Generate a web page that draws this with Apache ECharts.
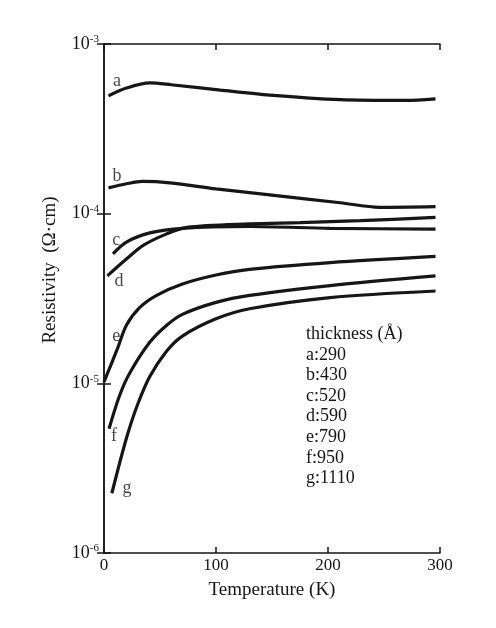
<!DOCTYPE html>
<html>
<head>
<meta charset="utf-8">
<script src="https://cdn.jsdelivr.net/npm/echarts@6/dist/echarts.min.js"></script>
<style>
html, body { margin: 0; padding: 0; background: #fff; }
#container { width: 496px; height: 628px; }
</style>
</head>
<body>
<div id="container"></div>
<script>
// readings from the figure: temperature (K) and resistivity (Ω·cm) per film
var tempA = [4, 20, 41, 60, 104, 148, 211, 269, 296];
var resA = [4.95e-4, 5.5e-4, 5.9e-4, 5.75e-4, 5.35e-4, 5.0e-4, 4.7e-4, 4.65e-4, 4.75e-4];
var tempB = [4, 20, 34, 59, 100, 148, 211, 246, 296];
var resB = [1.42e-4, 1.5e-4, 1.55e-4, 1.52e-4, 1.4e-4, 1.29e-4, 1.16e-4, 1.09e-4, 1.1e-4];
var tempC = [8, 20, 41, 70, 130, 202, 296];
var resC = [5.8e-5, 6.8e-5, 7.7e-5, 8.2e-5, 8.4e-5, 8.2e-5, 8.1e-5];
var tempD = [3, 20, 35, 56, 74, 130, 175, 229, 296];
var resD = [4.3e-5, 5.4e-5, 6.5e-5, 7.6e-5, 8.3e-5, 8.7e-5, 8.85e-5, 9.1e-5, 9.5e-5];
var tempE = [0, 12, 20, 32, 47, 70, 100, 130, 202, 296];
var resE = [1.02e-5, 1.6e-5, 2.2e-5, 2.8e-5, 3.3e-5, 3.85e-5, 4.35e-5, 4.7e-5, 5.15e-5, 5.6e-5];
var tempF = [4.5, 14, 23, 41, 56, 70, 100, 130, 202, 296];
var resF = [5.4e-6, 8.5e-6, 1.15e-5, 1.75e-5, 2.2e-5, 2.55e-5, 3.0e-5, 3.3e-5, 3.77e-5, 4.3e-5];
var tempG = [7, 14, 21, 30, 41, 56, 70, 100, 130, 202, 296];
var resG = [2.25e-6, 3.4e-6, 5.0e-6, 7.5e-6, 1.1e-5, 1.55e-5, 1.9e-5, 2.4e-5, 2.75e-5, 3.2e-5, 3.5e-5];

// curve letters and where they sit
var curveNames = ['a', 'b', 'c', 'd', 'e', 'f', 'g'];
var nameTemps = [11.6, 11.6, 11, 13.4, 11, 9, 20.5];
var nameValues = [6.05e-4, 1.67e-4, 7.0e-5, 4.0e-5, 1.9e-5, 4.9e-6, 2.4e-6];

// thickness table
var thicknessTitle = 'thickness (Å)';
var thicknessValues = ['290', '430', '520', '590', '790', '950', '1110'];

var xTicks = [0, 100, 200, 300];

var myChart = echarts.init(document.getElementById('container'));

function pairs(xs, ys) {
	var out = [];
	for (var i = 0; i < xs.length; i++) {
		out.push([xs[i], ys[i]]);
	}
	return out;
}

var serif = 'Liberation Serif';
var ink = '#161616';

var curves = [
	[tempA, resA], [tempB, resB], [tempC, resC], [tempD, resD],
	[tempE, resE], [tempF, resF], [tempG, resG]
];

var series = curves.map(function(c, i) {
	return {
		name: curveNames[i],
		type: 'line',
		xAxisIndex: 0,
		yAxisIndex: 0,
		data: pairs(c[0], c[1]),
		smooth: 0.3,
		symbol: 'none',
		lineStyle: { color: ink, width: 3.2 }
	};
});

var labelData = curveNames.map(function(n, i) {
	return { value: [nameTemps[i], nameValues[i]], name: n };
});

series.push({
	type: 'scatter',
	xAxisIndex: 0,
	yAxisIndex: 0,
	symbolSize: 0,
	data: labelData,
	label: {
		show: true,
		position: 'inside',
		formatter: '{b}',
		fontFamily: serif,
		fontSize: 18,
		color: ink
	},
	silent: true
});

var tableLines = [thicknessTitle];
thicknessValues.forEach(function(v, i) {
	tableLines.push(curveNames[i] + ':' + v);
});

var option = {
	animation: false,
	backgroundColor: '#fff',
	grid: { left: 104, right: 56, top: 44, bottom: 75 },
	xAxis: [{
		type: 'value',
		min: 0,
		max: 300,
		interval: 100,
		name: 'Temperature (K)',
		nameLocation: 'middle',
		nameGap: 28,
		nameTextStyle: { fontFamily: serif, fontSize: 19, color: ink },
		axisLine: { lineStyle: { color: ink, width: 1.5 } },
		axisTick: { inside: true, length: 6, lineStyle: { color: ink, width: 1.5 } },
		axisLabel: {
			margin: 4,
			fontFamily: serif,
			fontSize: 17,
			color: ink,
			customValues: xTicks
		},
		splitLine: { show: false }
	}, {
		type: 'value',
		position: 'top',
		min: 0,
		max: 300,
		interval: 100,
		axisLine: { lineStyle: { color: ink, width: 1.5 } },
		axisTick: { inside: true, length: 6, lineStyle: { color: ink, width: 1.5 } },
		axisLabel: { show: false },
		splitLine: { show: false }
	}],
	yAxis: [{
		type: 'log',
		logBase: 10,
		min: 1e-6,
		max: 1e-3,
		axisLine: { lineStyle: { color: ink, width: 1.5 } },
		axisTick: { inside: true, length: 7, lineStyle: { color: ink, width: 1.5 } },
		axisLabel: {
			margin: 5,
			formatter: function(v) {
				var e = Math.round(Math.log(v) / Math.LN10);
				return '{b|10}{s|' + e + '}';
			},
			rich: {
				b: { fontFamily: serif, fontSize: 18, color: ink },
				s: { fontFamily: serif, fontSize: 11, color: ink, padding: [0, 0, 9, 0] }
			}
		},
		splitLine: { show: false }
	}, {
		type: 'log',
		logBase: 10,
		position: 'right',
		min: 1e-6,
		max: 1e-3,
		axisLine: { show: true, lineStyle: { color: ink, width: 1.5 } },
		axisTick: { show: true, inside: true, length: 7, lineStyle: { color: ink, width: 1.5 } },
		axisLabel: { show: false },
		splitLine: { show: false }
	}],
	graphic: [{
		type: 'text',
		x: 50,
		y: 270,
		rotation: Math.PI / 2,
		style: {
			text: 'Resistivity  (Ω·cm)',
			fontFamily: serif,
			fontSize: 19,
			fill: ink,
			textAlign: 'center',
			textVerticalAlign: 'middle'
		}
	}, {
		type: 'text',
		left: 306,
		top: 324,
		style: {
			text: tableLines.join('\n'),
			fontFamily: serif,
			fontSize: 18,
			lineHeight: 20.6,
			fill: ink
		}
	}],
	series: series
};

myChart.setOption(option);
</script>
</body>
</html>
